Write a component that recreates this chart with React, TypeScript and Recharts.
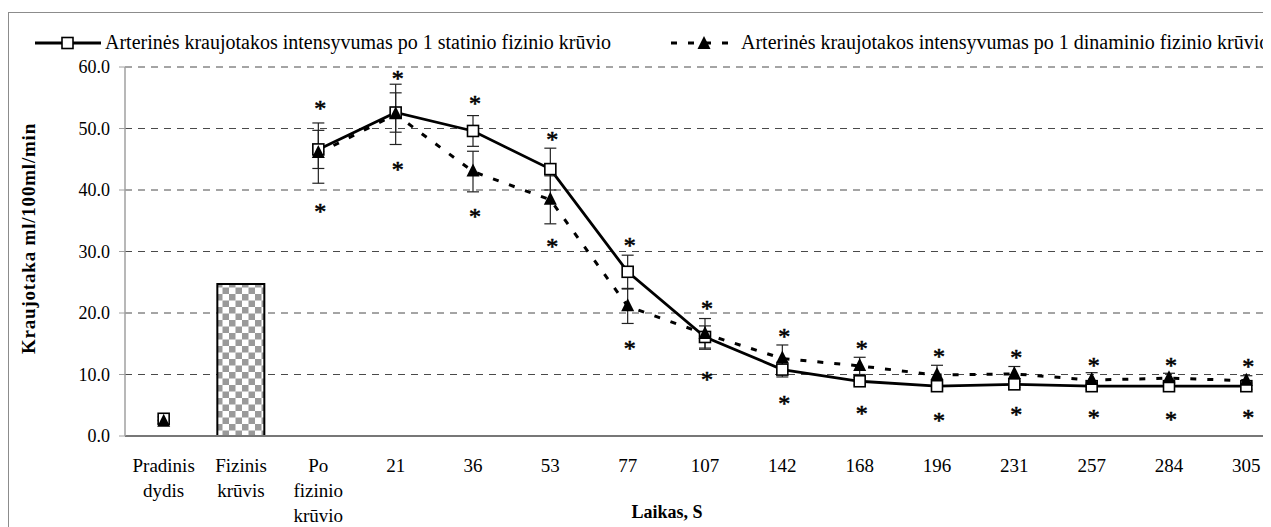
import {
  ComposedChart,
  Line,
  Bar,
  XAxis,
  YAxis,
  CartesianGrid,
  ErrorBar,
} from 'recharts'

const categories = [
  'Pradinis\ndydis',
  'Fizinis\nkrūvis',
  'Po\nfizinio\nkrūvio',
  '21', '36', '53', '77', '107', '142', '168', '196', '231', '257', '284', '305',
]

// statinis krūvis (kvadratai)
const staticValues = [2.8, null, 46.6, 52.6, 49.6, 43.4, 26.7, 16.1, 10.8, 8.9, 8.1, 8.4, 8.1, 8.1, 8.1]
const staticErr = [0.3, null, 3.1, 3.2, 2.5, 3.4, 2.7, 1.8, 1.2, 0.6, 0.5, 0.5, 0.5, 0.5, 0.5]

// dinaminis krūvis (trikampiai)
const dynamicValues = [2.3, null, 46.0, 52.3, 43.0, 38.4, 21.1, 16.6, 12.6, 11.4, 9.9, 10.1, 9.1, 9.4, 9.0]
const dynamicErr = [0.3, null, 4.9, 4.9, 3.3, 3.9, 2.8, 2.5, 2.2, 1.4, 1.6, 1.2, 1.2, 0.8, 0.8]

const loadBar = [null, 24.7, null, null, null, null, null, null, null, null, null, null, null, null, null]

// žvaigždutės (reikšmingumas)
const starHigh = [null, null, 53.8, 58.7, 54.6, 48.7, 31.6, 21.3, 16.7, 14.8, 13.5, 13.3, 12.0, 12.0, 11.8]
const starLow = [null, null, 37.1, 43.9, 36.3, 31.4, 14.8, 9.8, 5.9, 4.2, 3.1, 4.1, 3.6, 3.3, 3.6]

const yTicks = [0, 10, 20, 30, 40, 50, 60]

const data = categories.map((name, i) => ({
  name,
  stat: staticValues[i],
  statErr: staticErr[i],
  dyn: dynamicValues[i],
  dynErr: dynamicErr[i],
  load: loadBar[i],
  hi: starHigh[i],
  lo: starLow[i],
}))

const FONT = '"Liberation Serif", "Times New Roman", serif'
const DASH = '6 11'

const SquareDot = (props: any) => {
  const { cx, cy, value } = props
  if (value == null || cx == null || cy == null) return null
  return <rect x={cx - 5.5} y={cy - 5.5} width={11} height={11} fill="#fff" stroke="#000" strokeWidth={1.6} />
}

const TriangleDot = (props: any) => {
  const { cx, cy, value } = props
  if (value == null || cx == null || cy == null) return null
  return <path d={`M${cx},${cy - 8} L${cx + 6.5},${cy + 5} L${cx - 6.5},${cy + 5} Z`} fill="#000" />
}

const StarDot = (props: any) => {
  const { cx, cy, value } = props
  if (value == null || cx == null || cy == null) return null
  return (
    <text
      x={cx + 2}
      y={cy + 11}
      textAnchor="middle"
      fontFamily={FONT}
      fontSize={24}
      fill="#000"
      stroke="#000"
      strokeWidth={0.6}
    >
      *
    </text>
  )
}

const CategoryTick = (props: any) => {
  const { x, y, payload } = props
  const lines = String(payload.value).split('\n')
  return (
    <text x={x} y={y} textAnchor="middle" fontFamily={FONT} fontSize={19} fill="#000">
      {lines.map((line, i) => (
        <tspan key={i} x={x} dy={i === 0 ? 28 : 25}>
          {line}
        </tspan>
      ))}
    </text>
  )
}

const YTitle = (props: any) => {
  const vb = props.viewBox
  const cy = vb.y + vb.height / 2 - 13
  const cx = 27
  return (
    <text
      x={cx}
      y={cy}
      transform={`rotate(-90, ${cx}, ${cy})`}
      textAnchor="middle"
      fontFamily={FONT}
      fontSize={19}
      fontWeight="bold"
      letterSpacing={0.8}
      fill="#000"
    >
      Kraujotaka ml/100ml/min
    </text>
  )
}

const XTitle = (props: any) => {
  const vb = props.viewBox
  return (
    <text x={659} y={vb.y + 82} textAnchor="middle" fontFamily={FONT} fontSize={18} fontWeight="bold" fill="#000">
      Laikas, S
    </text>
  )
}

export default function App() {
  return (
    <div style={{ position: 'relative', width: 1263, height: 519, overflow: 'hidden', fontFamily: FONT }}>
      {/* outer frame */}
      <div
        style={{
          position: 'absolute',
          left: 0,
          top: 4,
          width: 1400,
          height: 700,
          border: '1px solid #8c8c8c',
        }}
      />

      {/* Legend */}
      <div style={{ position: 'absolute', top: 23, left: 27, display: 'flex', alignItems: 'center', fontSize: 20, whiteSpace: 'nowrap' }}>
        <svg width={66} height={16}>
          <line x1={0} y1={8} x2={66} y2={8} stroke="#000" strokeWidth={3} />
          <rect x={27} y={2.5} width={11} height={11} fill="#fff" stroke="#000" strokeWidth={1.6} />
        </svg>
        <span style={{ marginLeft: 4 }}>Arterinės kraujotakos intensyvumas po 1 statinio fizinio krūvio</span>
      </div>
      <div style={{ position: 'absolute', top: 23, left: 663, display: 'flex', alignItems: 'center', fontSize: 20, whiteSpace: 'nowrap' }}>
        <svg width={66} height={16}>
          <line x1={0} y1={8} x2={66} y2={8} stroke="#000" strokeWidth={3} strokeDasharray="6 11" />
          <path d="M33,1 L39.5,14 L26.5,14 Z" fill="#000" />
        </svg>
        <span style={{ marginLeft: 4 }}>Arterinės kraujotakos intensyvumas po 1 dinaminio fizinio krūvio</span>
      </div>

      <ComposedChart
        width={1287}
        height={528}
        data={data}
        margin={{ top: 59, right: 10, left: 0, bottom: 0 }}
        barGap={0}
      >
        <defs>
          <pattern id="checker" width={13} height={13} patternUnits="userSpaceOnUse">
            <rect width={13} height={13} fill="#fff" />
            <rect x={0} y={0} width={6.5} height={6.5} fill="#9a9a9a" />
            <rect x={6.5} y={6.5} width={6.5} height={6.5} fill="#9a9a9a" />
          </pattern>
        </defs>
        <CartesianGrid vertical={false} stroke="#4a4a4a" strokeDasharray="7 6" />
        <XAxis
          dataKey="name"
          interval={0}
          tickLine={false}
          axisLine={{ stroke: '#777', strokeWidth: 2 }}
          tick={<CategoryTick />}
          height={100}
          label={<XTitle />}
        />
        <YAxis
          type="number"
          domain={[0, 60]}
          ticks={yTicks}
          width={117}
          axisLine={{ stroke: '#a0a0a0', strokeWidth: 1.5 }}
          tickLine={{ stroke: '#a0a0a0' }}
          tickSize={6}
          tickMargin={9}
          tickFormatter={(v: number) => v.toFixed(1)}
          tick={{ fill: '#000', fontSize: 18, fontFamily: FONT }}
          label={<YTitle />}
        />
        <Bar dataKey="load" barSize={47} fill="url(#checker)" stroke="#000" strokeWidth={2} isAnimationActive={false} />
        <Line
          dataKey="stat"
          stroke="#000"
          strokeWidth={2.8}
          dot={<SquareDot />}
          activeDot={false}
          isAnimationActive={false}
        >
          <ErrorBar dataKey="statErr" width={6} stroke="#222" strokeWidth={1.2} direction="y" />
        </Line>
        <Line
          dataKey="dyn"
          stroke="#000"
          strokeWidth={3}
          strokeDasharray={DASH}
          dot={<TriangleDot />}
          activeDot={false}
          isAnimationActive={false}
        >
          <ErrorBar dataKey="dynErr" width={6} stroke="#222" strokeWidth={1.2} direction="y" />
        </Line>
        <Line dataKey="hi" stroke="none" dot={<StarDot />} activeDot={false} legendType="none" isAnimationActive={false} />
        <Line dataKey="lo" stroke="none" dot={<StarDot />} activeDot={false} legendType="none" isAnimationActive={false} />
      </ComposedChart>
    </div>
  )
}
